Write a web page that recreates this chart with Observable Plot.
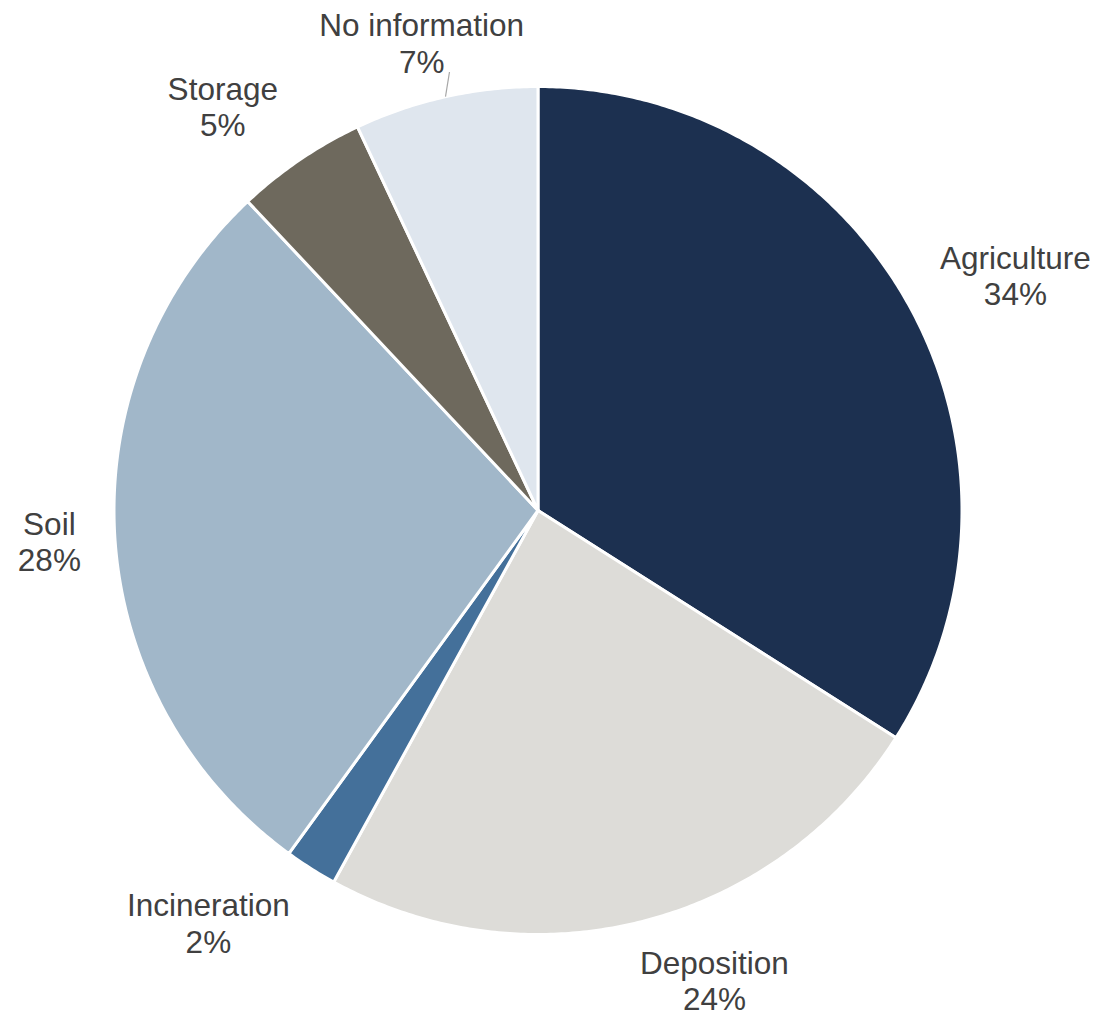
<!DOCTYPE html>
<html><head><meta charset="utf-8">
<script src="https://cdn.jsdelivr.net/npm/d3@7"></script>
<script src="https://cdn.jsdelivr.net/npm/@observablehq/plot@0.6"></script>
<style>body{margin:0;background:#fff}</style>
</head><body><div id="chart"></div>
<script>
// ---- data ----
const categories = ["Agriculture", "Deposition", "Incineration", "Soil", "Storage", "No information"];
const shares = [34, 24, 2, 28, 5, 7];
const colors = ["#1c3050", "#dddcd8", "#44709a", "#a1b7c9", "#6e695d", "#dfe6ee"];

// ---- layout ----
const W = 1097, H = 1013, CX = 537.5, CY = 510, R = 424;
const FONT = "'Liberation Sans', Arial, Helvetica, sans-serif";
const FS = 31.5, LH = 36.5, GAP = 28, PADX = 6;
const labelNudge = {"No information": {dx: 58, dy: 5.5, leader: true}};

const total = d3.sum(shares);
let acc = 0;
const slices = categories.map((c, i) => {
  const a0 = acc / total * 2 * Math.PI;
  acc += shares[i];
  const a1 = acc / total * 2 * Math.PI;
  return {category: c, share: shares[i], a0, a1, mid: (a0 + a1) / 2};
});

// polygon points (unit radius, y up)
const pts = [];
for (const s of slices) {
  pts.push({category: s.category, x: 0, y: 0});
  const n = Math.max(2, Math.ceil((s.a1 - s.a0) / (Math.PI / 360)));
  for (let k = 0; k <= n; k++) {
    const a = s.a0 + (s.a1 - s.a0) * k / n;
    pts.push({category: s.category, x: Math.sin(a), y: Math.cos(a)});
  }
  pts.push({category: s.category, x: 0, y: 0});
}

// labels
const ctx = document.createElement("canvas").getContext("2d");
ctx.font = FS + "px " + FONT;
const clx = v => Math.max(-1, Math.min(1, v * 3.2));
const cly = v => Math.sign(v) * Math.min(0.88, Math.abs(v));
const leaders = [];
const labels = slices.map(s => {
  const lines = [s.category, s.share + "%"];
  const w = Math.max(...lines.map(t => ctx.measureText(t).width));
  const h = LH * 2;
  const ux = Math.sin(s.mid), uy = -Math.cos(s.mid);
  const px = CX + (R + GAP) * ux, py = CY + (R + GAP) * uy;
  let cx = px + (w / 2 + PADX) * clx(ux), cy = py + h / 2 * cly(uy);
  const nd = labelNudge[s.category];
  if (nd) {
    cx += nd.dx; cy += nd.dy;
    if (nd.leader) {
      const w2 = ctx.measureText(lines[1]).width;
      const ex = cx + w2 / 2 + 5, ey = cy + LH / 2 + 11;
      leaders.push({x1: ux, y1: -uy, x2: (ex - CX) / R, y2: (CY - ey) / R});
    }
  }
  return {text: lines.join("\n"), x: (cx - CX) / R, y: (CY - cy) / R};
});

const chart = Plot.plot({
  width: W, height: H, margin: 0,
  x: {domain: [-CX / R, (W - CX) / R], axis: null},
  y: {domain: [-(H - CY) / R, CY / R], axis: null},
  color: {domain: categories, range: colors},
  style: {background: "white"},
  marks: [
    Plot.line(pts, {x: "x", y: "y", z: "category", fill: "category", stroke: "white", strokeWidth: 3, strokeLinejoin: "round", curve: "linear"}),
    Plot.link(leaders, {x1: "x1", y1: "y1", x2: "x2", y2: "y2", stroke: "#a6a6a6", strokeWidth: 1.2}),
    Plot.text(labels, {x: "x", y: "y", text: "text", fontSize: FS, lineHeight: LH / FS, fill: "#404040", fontFamily: FONT, textAnchor: "middle", lineAnchor: "middle"})
  ]
});
document.getElementById("chart").appendChild(chart);
</script>
</body></html>
